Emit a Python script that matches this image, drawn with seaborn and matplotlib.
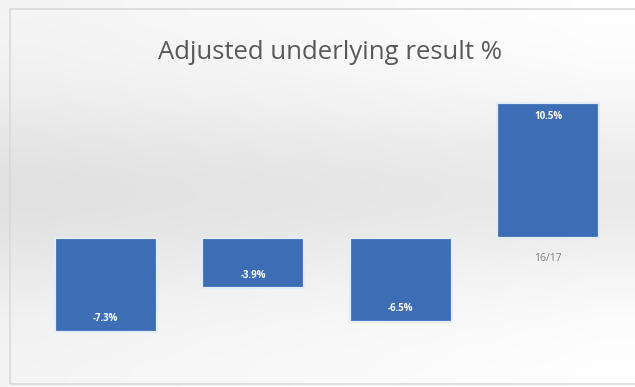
import numpy as np
import pandas as pd
import matplotlib
matplotlib.use("Agg")
import matplotlib.pyplot as plt
import seaborn as sns
from matplotlib.patches import Rectangle

# Adjusted underlying result by financial year
years = ["13/14", "14/15", "15/16", "16/17"]
result_pct = [-7.3, -3.9, -6.5, 10.5]
value_labels = ["-7.3%", "-3.9%", "-6.5%", "10.5%"]

df = pd.DataFrame({"year": years, "result": result_pct})

sns.set_theme(style="white")
plt.rcParams["font.family"] = ["Open Sans", "DejaVu Sans"]

fig = plt.figure(figsize=(6.35, 3.87), dpi=100)

# soft grey backdrop with a light frame
bg = fig.add_axes([0, 0, 1, 1], zorder=-10)
grad = np.linspace(0, 1, 256)
shade = 1 - 0.08 * np.exp(-((grad - 0.5) / 0.25) ** 2)
img = np.tile(shade[:, None], (1, 10))
horiz = 1 - 0.04 * (1 - np.linspace(0, 1, 10))
img = img * horiz[None, :]
bg.imshow(np.dstack([img, img, img]), aspect="auto", extent=[0, 1, 0, 1],
          origin="upper")
bg.add_patch(Rectangle((10 / 635, 3 / 387), 0.99, 1 - 12 / 387,
                       fill=False, edgecolor="#d9d9d9", linewidth=1.2,
                       transform=bg.transAxes))
bg.set_xlim(0, 1)
bg.set_ylim(0, 1)
bg.axis("off")

ax = fig.add_axes([32 / 635, 42 / 387, 590 / 635, 255 / 387])
ax.patch.set_alpha(0)

sns.barplot(data=df, x="year", y="result", color="#3d6db5", saturation=1,
            width=0.69, ax=ax, zorder=3, edgecolor="#e4ecf6", linewidth=1.6)

ax.set_xlim(-0.5, 3.5)
ax.set_ylim(-8.3, 11.5)
ax.set_xlabel("")
ax.set_ylabel("")
ax.set_yticks([])
# category labels sit just below the zero line, hidden by negative bars
ax.spines["bottom"].set_position(("data", 0))
ax.tick_params(axis="x", length=0, pad=11, labelsize=7.5, labelcolor="#7f7f7f")
for s in ax.spines.values():
    s.set_visible(False)

# value labels inside the end of each bar
for patch, val, lab in zip(ax.patches, result_pct, value_labels):
    cx = patch.get_x() + patch.get_width() / 2
    if val < 0:
        ax.text(cx, val + 0.6, lab, ha="center", va="bottom", color="white",
                fontsize=7, fontweight="bold", zorder=5)
    else:
        ax.text(cx, val - 0.6, lab, ha="center", va="top", color="white",
                fontsize=7, fontweight="bold", zorder=5)

fig.text(0.52, 0.865, "Adjusted underlying result %", ha="center",
         va="center", fontsize=18.5, color="#595959")

fig.savefig("out.png", dpi=100)
